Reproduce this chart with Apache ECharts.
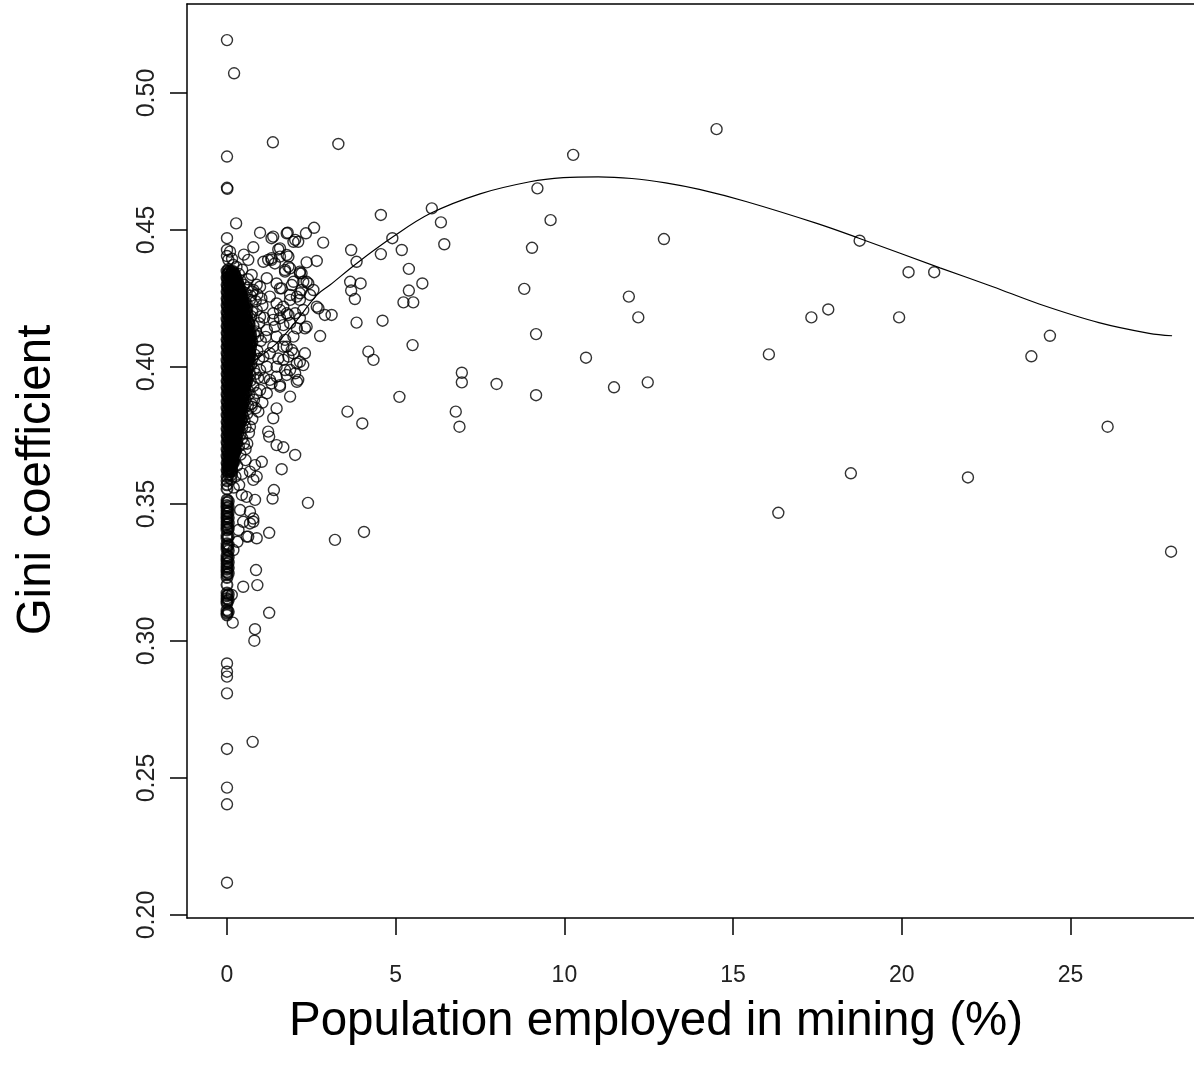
<!DOCTYPE html>
<html>
<head>
<meta charset="utf-8">
<script src="https://cdn.jsdelivr.net/npm/echarts@6/dist/echarts.min.js"></script>
<style>
  html, body { margin: 0; padding: 0; background: #fff; }
  #chart { width: 1194px; height: 1071px; }
</style>
</head>
<body>
<div id="chart"></div>
<script>
// Mining employment (%) against county Gini coefficient

const xTicks = [0, 5, 10, 15, 20, 25];
const yTicks = [0.20, 0.25, 0.30, 0.35, 0.40, 0.45, 0.50];

// Dense band of low-mining areas: each row is [gini, [mining % values]]
const coreRows = [
  [0.4350, [0, 0.08, 0.16]],
  [0.4338, [0.02, 0.12, 0.22]],
  [0.4325, [0, 0.10, 0.18, 0.26]],
  [0.4312, [0.04, 0.14, 0.24]],
  [0.4300, [0, 0.09, 0.20, 0.28]],
  [0.4288, [0.03, 0.13, 0.23, 0.33]],
  [0.4275, [0, 0.10, 0.19, 0.30, 0.38]],
  [0.4262, [0.05, 0.15, 0.25, 0.35, 0.42]],
  [0.4250, [0, 0.09, 0.20, 0.31, 0.40]],
  [0.4238, [0.03, 0.14, 0.24, 0.34, 0.45]],
  [0.4225, [0, 0.10, 0.20, 0.29, 0.39, 0.48]],
  [0.4212, [0.05, 0.15, 0.26, 0.36, 0.46]],
  [0.4200, [0, 0.10, 0.21, 0.31, 0.41, 0.50]],
  [0.4188, [0.04, 0.14, 0.24, 0.35, 0.45, 0.55]],
  [0.4175, [0, 0.09, 0.19, 0.30, 0.40, 0.50]],
  [0.4162, [0.05, 0.15, 0.25, 0.34, 0.44, 0.53]],
  [0.4150, [0, 0.10, 0.20, 0.30, 0.39, 0.49, 0.58]],
  [0.4138, [0.04, 0.14, 0.25, 0.35, 0.45, 0.55]],
  [0.4125, [0, 0.09, 0.19, 0.29, 0.40, 0.50, 0.60]],
  [0.4112, [0.05, 0.15, 0.24, 0.34, 0.44, 0.55, 0.64]],
  [0.4100, [0, 0.10, 0.20, 0.30, 0.40, 0.49, 0.59]],
  [0.4088, [0.04, 0.14, 0.25, 0.35, 0.45, 0.54, 0.65]],
  [0.4075, [0, 0.09, 0.19, 0.30, 0.40, 0.50, 0.60]],
  [0.4062, [0.05, 0.15, 0.24, 0.34, 0.45, 0.55, 0.64]],
  [0.4050, [0, 0.10, 0.20, 0.30, 0.39, 0.50, 0.60]],
  [0.4038, [0.04, 0.14, 0.25, 0.35, 0.44, 0.55, 0.63]],
  [0.4025, [0, 0.09, 0.19, 0.29, 0.40, 0.50, 0.59]],
  [0.4012, [0.05, 0.15, 0.24, 0.34, 0.45, 0.54]],
  [0.4000, [0, 0.10, 0.20, 0.30, 0.40, 0.50, 0.60]],
  [0.3988, [0.04, 0.14, 0.25, 0.35, 0.44, 0.55]],
  [0.3975, [0, 0.09, 0.19, 0.29, 0.40, 0.50]],
  [0.3962, [0.05, 0.15, 0.24, 0.34, 0.45, 0.55]],
  [0.3950, [0, 0.10, 0.20, 0.30, 0.40, 0.49]],
  [0.3938, [0.04, 0.14, 0.25, 0.35, 0.44, 0.53]],
  [0.3925, [0, 0.09, 0.19, 0.29, 0.40, 0.50]],
  [0.3912, [0.05, 0.15, 0.24, 0.34, 0.45]],
  [0.3900, [0, 0.10, 0.20, 0.30, 0.40, 0.50]],
  [0.3888, [0.04, 0.14, 0.25, 0.35, 0.44]],
  [0.3875, [0, 0.09, 0.19, 0.29, 0.40]],
  [0.3862, [0.05, 0.15, 0.24, 0.34, 0.45]],
  [0.3850, [0, 0.10, 0.20, 0.30, 0.40]],
  [0.3838, [0.04, 0.14, 0.25, 0.35]],
  [0.3825, [0, 0.09, 0.19, 0.29, 0.38]],
  [0.3812, [0.05, 0.15, 0.24, 0.34]],
  [0.3800, [0, 0.10, 0.20, 0.30]],
  [0.3788, [0.04, 0.14, 0.25, 0.33]],
  [0.3775, [0, 0.09, 0.19, 0.28]],
  [0.3762, [0.05, 0.15, 0.24]],
  [0.3750, [0, 0.10, 0.20, 0.27]],
  [0.3738, [0.04, 0.14, 0.22]],
  [0.3725, [0, 0.09, 0.18]],
  [0.3712, [0.05, 0.15, 0.23]],
  [0.3700, [0, 0.10, 0.17, 0.25]],
  [0.3688, [0.04, 0.12, 0.21]],
  [0.3675, [0, 0.09, 0.18]],
  [0.3662, [0.05, 0.11, 0.19]],
  [0.3650, [0, 0.08, 0.16]],
  [0.3638, [0.03, 0.12]],
  [0.3625, [0, 0.06, 0.14]]
];

// Further low-mining areas lying between the rows above
const coreRowsB = [
  [0.4344, [0.04, 0.13, 0.21]],
  [0.4331, [0.06, 0.15, 0.24]],
  [0.4319, [0.02, 0.12, 0.21, 0.27]],
  [0.4306, [0.07, 0.17, 0.26, 0.32]],
  [0.4294, [0.02, 0.12, 0.22, 0.31, 0.36]],
  [0.4281, [0.07, 0.17, 0.27, 0.36, 0.41]],
  [0.4269, [0.02, 0.12, 0.22, 0.32, 0.41]],
  [0.4256, [0.07, 0.17, 0.27, 0.37, 0.45]],
  [0.4244, [0.02, 0.12, 0.22, 0.32, 0.42, 0.48]],
  [0.4231, [0.07, 0.17, 0.27, 0.37, 0.46, 0.52]],
  [0.4219, [0.02, 0.12, 0.22, 0.32, 0.42, 0.51]],
  [0.4206, [0.07, 0.17, 0.27, 0.37, 0.47, 0.56]],
  [0.4194, [0.02, 0.12, 0.22, 0.32, 0.42, 0.52, 0.60]],
  [0.4181, [0.07, 0.17, 0.27, 0.37, 0.47, 0.57]],
  [0.4169, [0.02, 0.12, 0.22, 0.32, 0.42, 0.52, 0.62]],
  [0.4156, [0.07, 0.17, 0.27, 0.37, 0.47, 0.57, 0.66]],
  [0.4144, [0.02, 0.12, 0.22, 0.32, 0.42, 0.52, 0.62]],
  [0.4131, [0.07, 0.17, 0.27, 0.37, 0.47, 0.57, 0.67]],
  [0.4119, [0.02, 0.12, 0.22, 0.32, 0.42, 0.52, 0.62, 0.70]],
  [0.4106, [0.07, 0.17, 0.27, 0.37, 0.47, 0.57, 0.67]],
  [0.4094, [0.02, 0.12, 0.22, 0.32, 0.42, 0.52, 0.62, 0.72]],
  [0.4081, [0.07, 0.17, 0.27, 0.37, 0.47, 0.57, 0.67]],
  [0.4069, [0.02, 0.12, 0.22, 0.32, 0.42, 0.52, 0.62, 0.70]],
  [0.4056, [0.07, 0.17, 0.27, 0.37, 0.47, 0.57, 0.67]],
  [0.4044, [0.02, 0.12, 0.22, 0.32, 0.42, 0.52, 0.62, 0.69]],
  [0.4031, [0.07, 0.17, 0.27, 0.37, 0.47, 0.57, 0.66]],
  [0.4019, [0.02, 0.12, 0.22, 0.32, 0.42, 0.52, 0.62]],
  [0.4006, [0.07, 0.17, 0.27, 0.37, 0.47, 0.57, 0.65]],
  [0.3994, [0.02, 0.12, 0.22, 0.32, 0.42, 0.52, 0.61]],
  [0.3981, [0.07, 0.17, 0.27, 0.37, 0.47, 0.57]],
  [0.3969, [0.02, 0.12, 0.22, 0.32, 0.42, 0.52, 0.60]],
  [0.3956, [0.07, 0.17, 0.27, 0.37, 0.47, 0.56]],
  [0.3944, [0.02, 0.12, 0.22, 0.32, 0.42, 0.52, 0.58]],
  [0.3931, [0.07, 0.17, 0.27, 0.37, 0.47, 0.55]],
  [0.3919, [0.02, 0.12, 0.22, 0.32, 0.42, 0.52]],
  [0.3906, [0.07, 0.17, 0.27, 0.37, 0.47, 0.54]],
  [0.3894, [0.02, 0.12, 0.22, 0.32, 0.42, 0.50]],
  [0.3881, [0.07, 0.17, 0.27, 0.37, 0.47]],
  [0.3869, [0.02, 0.12, 0.22, 0.32, 0.42, 0.49]],
  [0.3856, [0.07, 0.17, 0.27, 0.37, 0.46]],
  [0.3844, [0.02, 0.12, 0.22, 0.32, 0.42]],
  [0.3831, [0.07, 0.17, 0.27, 0.37, 0.44]],
  [0.3819, [0.02, 0.12, 0.22, 0.32, 0.40]],
  [0.3806, [0.07, 0.17, 0.27, 0.36, 0.42]],
  [0.3794, [0.02, 0.12, 0.22, 0.31, 0.38]],
  [0.3781, [0.07, 0.17, 0.27, 0.35]],
  [0.3769, [0.02, 0.12, 0.22, 0.31]],
  [0.3756, [0.07, 0.17, 0.26, 0.32]],
  [0.3744, [0.02, 0.12, 0.21, 0.28]],
  [0.3731, [0.07, 0.17, 0.25]],
  [0.3719, [0.02, 0.12, 0.20, 0.26]],
  [0.3706, [0.07, 0.16, 0.22]],
  [0.3694, [0.02, 0.11, 0.18, 0.24]],
  [0.3681, [0.06, 0.14, 0.21]],
  [0.3669, [0.02, 0.10, 0.17]],
  [0.3656, [0.06, 0.12, 0.19]],
  [0.3644, [0.02, 0.08, 0.15]],
  [0.3631, [0.05, 0.12]],
  [0.3618, [0.02, 0.09]],
  [0.3606, [0.05, 0.13]]
];

// Areas with no mining employment: tightly stacked Gini values
const zeroMiningBand = [
  0.3600, 0.3585, 0.3570, 0.3555, 0.3515, 0.3505, 0.3495, 0.3485, 0.3475,
  0.3465, 0.3455, 0.3445, 0.3435, 0.3425, 0.3415, 0.3405, 0.3385, 0.3375,
  0.3355, 0.3345, 0.3335, 0.3312, 0.3302, 0.3292, 0.3282, 0.3272, 0.3262,
  0.3252, 0.3242, 0.3232, 0.3205, 0.3175, 0.3165, 0.3155, 0.3145, 0.3138,
  0.3112, 0.3102, 0.3095
];

// Areas with a trace of mining employment (0.04 %) in the same band
const traceMiningBand = [
  0.3510, 0.3490, 0.3470, 0.3450, 0.3430, 0.3410, 0.3380, 0.3350, 0.3330,
  0.3307, 0.3287, 0.3267, 0.3247, 0.3170, 0.3150, 0.3107
];

// Areas with no mining employment: isolated Gini values
const zeroMiningIsolated = [
  0.2918, 0.2888, 0.2870, 0.2809, 0.2606, 0.2465, 0.2404, 0.2118,
  0.4768, 0.4654, 0.5193, 0.4470, 0.4427, 0.4405
];

// Scattered areas around the dense band: [mining %, gini]
const loosePoints = [
  [0.01, 0.4650], [0.21, 0.5072], [1.36, 0.4820], [0.27, 0.4524], [0.98, 0.4490],
  [1.32, 0.4470], [1.80, 0.4490], [2.02, 0.4464], [2.34, 0.4488], [2.58, 0.4508],
  [2.85, 0.4454], [2.11, 0.4457], [0.09, 0.4421], [0.78, 0.4437], [0.63, 0.4391],
  [1.08, 0.4384], [1.22, 0.4391], [1.32, 0.4397], [1.52, 0.4429], [1.57, 0.4403],
  [1.77, 0.4409], [2.66, 0.4387], [2.36, 0.4382], [1.82, 0.4366], [2.21, 0.4342],
  [1.72, 0.4348], [0.04, 0.4357], [0.19, 0.4372], [0.73, 0.4336], [1.18, 0.4324],
  [2.16, 0.4348], [1.97, 0.4311], [2.26, 0.4311], [2.41, 0.4305], [1.57, 0.4287],
  [1.87, 0.4263], [0.98, 0.4293], [0.78, 0.4281], [1.27, 0.4257], [2.16, 0.4269],
  [2.46, 0.4263], [2.56, 0.4281], [2.66, 0.4220], [2.90, 0.4190], [3.10, 0.4190],
  [2.71, 0.4214], [2.36, 0.4147], [2.76, 0.4113], [1.57, 0.4208], [1.77, 0.4196],
  [1.37, 0.4172], [1.18, 0.4135], [1.47, 0.4111], [1.97, 0.4111], [0.98, 0.4184],
  [0.88, 0.4208], [0.58, 0.4232], [0.48, 0.4184], [0.04, 0.4391],
  [1.37, 0.4476], [1.57, 0.4433], [1.32, 0.4391], [1.42, 0.4378], [1.77, 0.4488],
  [1.97, 0.4457], [1.82, 0.4403], [1.72, 0.4354], [1.87, 0.4360], [2.16, 0.4342],
  [1.47, 0.4305], [1.62, 0.4287], [1.92, 0.4299], [2.36, 0.4311], [2.21, 0.4281],
  [2.07, 0.4257], [1.47, 0.4232], [1.67, 0.4220], [1.87, 0.4245], [2.16, 0.4245],
  [2.26, 0.4208], [1.37, 0.4196], [1.57, 0.4178], [1.82, 0.4190], [2.02, 0.4196],
  [2.16, 0.4178], [1.42, 0.4147], [1.67, 0.4153], [1.87, 0.4160], [2.07, 0.4141],
  [2.31, 0.4141], [1.72, 0.4099], [1.37, 0.4074], [1.67, 0.4074], [1.92, 0.4062],
  [2.31, 0.4050], [1.52, 0.4031], [1.82, 0.4038], [2.16, 0.4019], [2.26, 0.4007],
  [1.47, 0.4001], [1.72, 0.3989], [2.02, 0.3977], [2.07, 0.3946], [1.32, 0.3940],
  [1.57, 0.3928], [1.87, 0.3892], [1.47, 0.3849], [1.37, 0.3813],
  [2.07, 0.4013], [2.11, 0.3953], [1.87, 0.3989], [1.77, 0.3971], [1.57, 0.3934],
  [1.22, 0.3764], [1.25, 0.3746], [1.47, 0.3715], [1.67, 0.3707], [2.02, 0.3679],
  [1.62, 0.3627], [1.03, 0.3654], [0.83, 0.3642], [0.68, 0.3618], [0.88, 0.3600],
  [0.68, 0.3782], [0.73, 0.3855], [0.93, 0.3837], [0.98, 0.3916], [1.18, 0.3904],
  [1.27, 0.3953], [1.47, 0.3965], [0.98, 0.3989], [1.18, 0.4001], [1.08, 0.4038],
  [1.27, 0.4050], [1.77, 0.4074], [1.97, 0.4050], [1.67, 0.4026],
  [0.39, 0.3855], [0.48, 0.3819],
  [0.70, 0.4260], [0.85, 0.4240], [1.05, 0.4225], [0.75, 0.4200], [0.95, 0.4160],
  [1.10, 0.4180], [0.80, 0.4120], [1.00, 0.4095], [0.70, 0.4080], [0.90, 0.4060],
  [1.15, 0.4110], [0.75, 0.4030], [0.85, 0.3975], [0.70, 0.3950], [1.10, 0.3960],
  [0.65, 0.3900], [0.80, 0.3880], [0.60, 0.3830], [1.05, 0.3870], [0.55, 0.3780],
  [0.45, 0.3740], [0.60, 0.3720], [0.40, 0.3680], [0.55, 0.3660], [0.30, 0.3640],
  [0.25, 0.3600], [0.45, 0.3610], [0.20, 0.3560], [0.55, 0.3700], [0.35, 0.3710],
  [1.39, 0.3551], [1.35, 0.3520], [0.83, 0.3515], [0.78, 0.3435], [0.48, 0.3435],
  [1.25, 0.3395], [0.88, 0.3375], [0.63, 0.3381], [0.31, 0.3362], [0.19, 0.3332],
  [0.86, 0.3259], [0.90, 0.3204], [0.48, 0.3198], [0.14, 0.3168], [1.25, 0.3103],
  [0.83, 0.3043], [0.81, 0.3001], [0.17, 0.3067], [0.44, 0.3533], [0.36, 0.3569],
  [0.78, 0.3588], [0.68, 0.3472], [0.58, 0.3526], [0.39, 0.3478], [0.68, 0.3429],
  [0.78, 0.3447], [0.34, 0.3405], [0.58, 0.3381], [0.76, 0.2632], [2.40, 0.3504],
  [0.62, 0.4290], [0.55, 0.4270], [0.68, 0.4245], [0.60, 0.4215], [0.72, 0.4185],
  [0.65, 0.4160], [0.78, 0.4150], [0.62, 0.4135], [0.85, 0.4130], [0.70, 0.4110],
  [0.92, 0.4112], [0.75, 0.4090], [0.68, 0.4055], [0.82, 0.4045], [0.95, 0.4030],
  [0.72, 0.4010], [0.62, 0.3990], [0.80, 0.3990], [0.92, 0.3960], [0.68, 0.3970],
  [0.58, 0.3945], [0.78, 0.3930], [0.88, 0.3905], [0.62, 0.3915], [0.55, 0.3880],
  [0.72, 0.3865], [0.50, 0.3850], [0.62, 0.3860], [0.85, 0.3850], [0.52, 0.3805],
  [0.75, 0.3810], [0.45, 0.3780], [0.65, 0.3760], [0.40, 0.3755], [0.30, 0.3725],
  [0.50, 0.3720], [0.25, 0.3690], [0.20, 0.3650], [0.15, 0.3620], [0.12, 0.3590],
  [0.75, 0.4275], [0.90, 0.4265], [1.02, 0.4250], [0.88, 0.4300], [0.62, 0.4320],
  [0.50, 0.4300], [0.40, 0.4315], [0.35, 0.4340], [0.45, 0.4355], [0.28, 0.4365],
  [0.15, 0.4395], [0.50, 0.4410]
];

// Areas with substantial mining employment: [mining %, gini]
const miningPoints = [
  [3.30, 0.4814], [4.56, 0.4555], [6.07, 0.4579], [6.34, 0.4528], [6.44, 0.4448],
  [4.90, 0.4470], [5.18, 0.4427], [4.56, 0.4412], [3.68, 0.4427], [3.84, 0.4384],
  [5.39, 0.4358], [5.79, 0.4305], [3.65, 0.4311], [3.96, 0.4305], [3.68, 0.4279],
  [3.79, 0.4248], [5.39, 0.4279], [5.23, 0.4236], [5.52, 0.4236], [3.84, 0.4162],
  [4.61, 0.4169], [5.50, 0.4080], [4.19, 0.4056], [4.34, 0.4026], [6.96, 0.3979],
  [6.96, 0.3944], [7.99, 0.3938], [5.11, 0.3891], [3.57, 0.3837], [4.01, 0.3794],
  [6.78, 0.3837], [6.89, 0.3782], [9.20, 0.4652], [10.26, 0.4774], [9.59, 0.4536],
  [9.04, 0.4435], [8.81, 0.4285], [9.16, 0.4120], [9.16, 0.3897], [10.64, 0.4034],
  [11.91, 0.4257], [12.19, 0.4181], [11.47, 0.3926], [12.47, 0.3944], [12.95, 0.4467],
  [14.51, 0.4868], [18.75, 0.4461], [20.20, 0.4346], [20.96, 0.4346], [17.32, 0.4181],
  [17.82, 0.4210], [19.92, 0.4181], [24.39, 0.4114], [23.84, 0.4039], [16.06, 0.4046],
  [26.10, 0.3782], [18.49, 0.3612], [21.96, 0.3597], [16.34, 0.3468], [27.98, 0.3326],
  [3.20, 0.3369], [4.06, 0.3398]
];

// Smoothed trend of Gini against mining share
const trendX = [0, 0.5, 1, 1.5, 2, 2.67, 3.05, 3.84, 4.93, 6.02, 7.5, 8.98, 9.97,
  11.0, 12.0, 13.0, 14.0, 15.38, 17.48, 18.73, 21.13, 22.7, 24.07, 25.84, 27.33, 28.01];
const trendY = [0.397, 0.400, 0.404, 0.409, 0.416, 0.4263, 0.4299, 0.4378, 0.4476, 0.4560,
  0.4632, 0.4676, 0.4691, 0.4694, 0.4688, 0.4672, 0.4648, 0.4604, 0.4524, 0.4470,
  0.4362, 0.4293, 0.4230, 0.4162, 0.4123, 0.4114];

// Dense points (drawn with a heavier outline so the overlap reads as solid)
const denseData = [];
coreRows.concat(coreRowsB).forEach(([g, xs]) => xs.forEach(x => denseData.push([x, g])));
zeroMiningBand.forEach(g => denseData.push([0, g]));
traceMiningBand.forEach(g => denseData.push([0.04, g]));

const scatterData = [];
zeroMiningIsolated.forEach(g => scatterData.push([0, g]));
loosePoints.forEach(p => scatterData.push(p));
miningPoints.forEach(p => scatterData.push(p));

const trendData = trendX.map((x, i) => [x, trendY[i]]);

const chart = echarts.init(document.getElementById('chart'), null, { renderer: 'canvas' });

const fontFamily = '"Liberation Sans", Arial, sans-serif';
const titleFont = 'normal 47.5px "Liberation Sans", Arial, sans-serif';
const ring = { color: 'rgba(0,0,0,0)', borderColor: '#000', borderWidth: 1.4 };

chart.setOption({
  animation: false,
  backgroundColor: '#fff',
  grid: { left: 187, top: 4, right: 0, bottom: 153, show: false },
  xAxis: [
    {
      type: 'value', position: 'bottom',
      min: -1.1855, max: 28.66,
      axisLine: { show: true, onZero: false, lineStyle: { color: '#000', width: 1.5 } },
      splitLine: { show: false },
      axisTick: { show: true, inside: false, length: 17, customValues: xTicks,
        lineStyle: { color: '#000', width: 1.5 } },
      axisLabel: { show: true, margin: 46, customValues: xTicks,
        formatter: v => String(v), fontFamily, fontSize: 23, color: '#222' }
    },
    {
      // top edge of the plot box
      type: 'value', position: 'top',
      min: -1.1855, max: 28.66,
      axisLine: { show: true, onZero: false, lineStyle: { color: '#000', width: 1.5 } },
      splitLine: { show: false }, axisTick: { show: false }, axisLabel: { show: false }
    }
  ],
  yAxis: {
    type: 'value', position: 'left',
    min: 0.19891, max: 0.53248,
    axisLine: { show: true, onZero: false, lineStyle: { color: '#000', width: 1.5 } },
    splitLine: { show: false },
    axisTick: { show: true, inside: false, length: 17, customValues: yTicks,
      lineStyle: { color: '#000', width: 1.5 } },
    axisLabel: { show: true, margin: 27, rotate: 90, customValues: yTicks,
      formatter: v => v.toFixed(2), fontFamily, fontSize: 25, color: '#222' }
  },
  graphic: [
    { type: 'text', silent: true, x: 656, y: 1022,
      style: { text: 'Population employed in mining (%)', font: titleFont, fill: '#000',
        textAlign: 'center', textVerticalAlign: 'middle' } },
    { type: 'text', silent: true, x: 37, y: 480, rotation: Math.PI / 2,
      style: { text: 'Gini coefficient', font: titleFont, fill: '#000',
        textAlign: 'center', textVerticalAlign: 'middle' } }
  ],
  series: [
    {
      type: 'scatter', xAxisIndex: 0, yAxisIndex: 0,
      data: denseData, large: false, symbol: 'circle', symbolSize: 11, silent: true,
      itemStyle: { color: 'rgba(0,0,0,0)', borderColor: '#000', borderWidth: 1.9 },
      z: 2
    },
    {
      type: 'scatter', xAxisIndex: 0, yAxisIndex: 0,
      data: scatterData, large: false, symbol: 'circle', symbolSize: 11, silent: true,
      itemStyle: ring, z: 2
    },
    {
      type: 'line', xAxisIndex: 0, yAxisIndex: 0,
      data: trendData, smooth: 0.35, showSymbol: false, symbol: 'none', silent: true,
      lineStyle: { color: '#000', width: 1.2 }, z: 3
    }
  ]
});
</script>
</body>
</html>
